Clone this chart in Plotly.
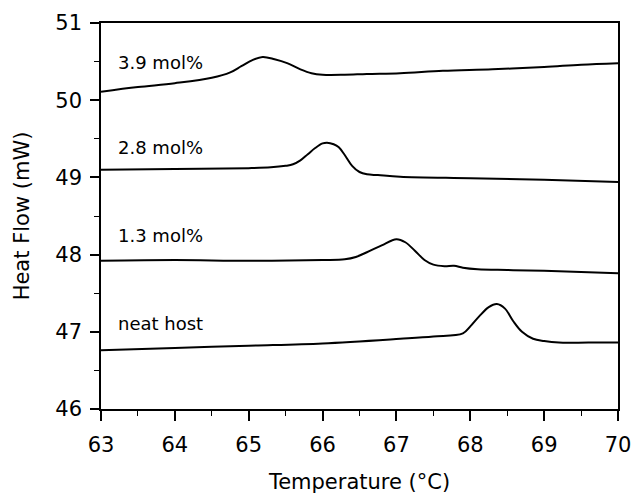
import plotly.graph_objects as go

# Data
t_39 = [63, 63.5, 64, 64.5, 64.75, 64.9, 65.05, 65.19, 65.35, 65.52, 65.7, 65.85, 66.0, 66.3, 66.6, 67.05, 67.63, 68.3, 69, 69.5, 70]
hf_39 = [50.11, 50.17, 50.22, 50.29, 50.36, 50.44, 50.52, 50.56, 50.53, 50.48, 50.40, 50.35, 50.33, 50.33, 50.34, 50.35, 50.38, 50.40, 50.43, 50.46, 50.48]

t_28 = [63, 64, 65.0, 65.3, 65.5, 65.6, 65.7, 65.8, 65.9, 66.0, 66.06, 66.15, 66.22, 66.3, 66.4, 66.5, 66.6, 66.75, 67.05, 68, 69, 70]
hf_28 = [49.10, 49.11, 49.12, 49.13, 49.15, 49.17, 49.22, 49.30, 49.38, 49.44, 49.45, 49.43, 49.39, 49.29, 49.15, 49.07, 49.04, 49.03, 49.01, 48.99, 48.97, 48.94]

t_13 = [63, 64, 65, 66, 66.3, 66.45, 66.6, 66.8, 67.0, 67.12, 67.25, 67.38, 67.5, 67.65, 67.78, 67.9, 68.1, 68.5, 69, 70]
hf_13 = [47.92, 47.93, 47.92, 47.93, 47.94, 47.97, 48.03, 48.12, 48.20, 48.16, 48.05, 47.93, 47.87, 47.85, 47.855, 47.83, 47.81, 47.80, 47.79, 47.76]

t_neat = [63, 64, 65, 66, 67.05, 67.5, 67.9, 68.0, 68.12, 68.25, 68.36, 68.47, 68.58, 68.7, 68.85, 69.0, 69.2, 69.6, 70]
hf_neat = [46.76, 46.79, 46.82, 46.85, 46.91, 46.94, 46.98, 47.07, 47.20, 47.32, 47.36, 47.30, 47.14, 47.00, 46.91, 46.88, 46.86, 46.86, 46.86]

labels = ["3.9 mol%", "2.8 mol%", "1.3 mol%", "neat host"]
label_x = [63.2, 63.2, 63.2, 63.2]
label_y = [50.49, 49.39, 48.25, 47.11]

x_ticks = [63, 64, 65, 66, 67, 68, 69, 70]
y_ticks = [46, 47, 48, 49, 50, 51]

FONT = "DejaVu Sans, Liberation Sans, Arial, sans-serif"

fig = go.Figure()
for tx, hy in [(t_39, hf_39), (t_28, hf_28), (t_13, hf_13), (t_neat, hf_neat)]:
    fig.add_trace(go.Scatter(x=tx, y=hy, mode="lines",
                             line=dict(color="black", width=2, shape="spline", smoothing=1.0),
                             showlegend=False, hoverinfo="skip"))

for lab, lx, ly in zip(labels, label_x, label_y):
    fig.add_annotation(x=lx, y=ly, text=lab, showarrow=False, xanchor="left", yanchor="middle",
                       font=dict(family=FONT, size=18, color="black"))

fig.update_layout(
    width=635, height=495,
    margin=dict(l=101, r=17, t=23, b=86),
    paper_bgcolor="white", plot_bgcolor="white",
    font=dict(family=FONT, color="black"),
)
fig.update_xaxes(range=[63, 70], tickvals=x_ticks, ticks="outside", ticklen=10, tickwidth=1.5,
                 tickcolor="black", showline=True, linecolor="black", linewidth=1.5, mirror=True,
                 showgrid=False, zeroline=False, tickfont=dict(size=21, family=FONT),
                 ticklabelstandoff=6, automargin=False,
                 minor=dict(dtick=0.5, ticks="outside", ticklen=5, tickcolor="black", tickwidth=1),
                 title=dict(text="Temperature (°C)", font=dict(size=21, family=FONT), standoff=18))
fig.update_yaxes(range=[46, 51], tickvals=y_ticks, ticks="outside", ticklen=9, tickwidth=1.5,
                 tickcolor="black", showline=True, linecolor="black", linewidth=1.5, mirror=True,
                 showgrid=False, zeroline=False, tickfont=dict(size=21, family=FONT),
                 ticklabelstandoff=4, automargin=False,
                 minor=dict(dtick=0.5, ticks="outside", ticklen=5, tickcolor="black", tickwidth=1),
                 title=dict(text="Heat Flow (mW)", font=dict(size=21, family=FONT), standoff=20))

fig.write_html("out.html")
